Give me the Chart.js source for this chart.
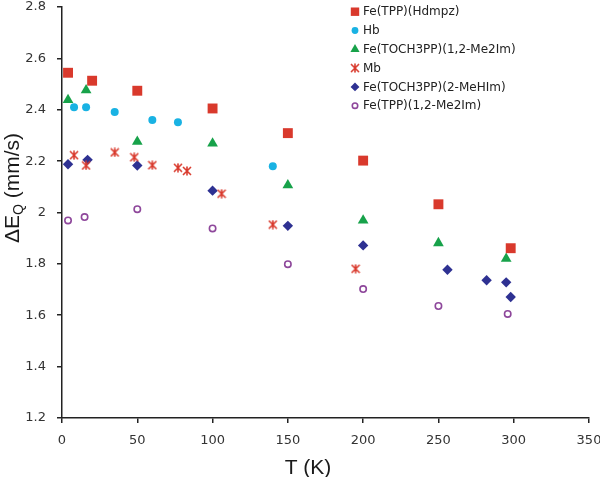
<!DOCTYPE html>
<html>
<head>
<meta charset="utf-8">
<script src="https://cdn.jsdelivr.net/npm/chart.js@4/dist/chart.umd.min.js"></script>
<style>
  body { margin: 0; background: #fff; }
  #wrap { width: 600px; height: 477px; }
</style>
</head>
<body>
<div id="wrap"><canvas id="mossChart" width="600" height="477"></canvas></div>
<script>
// temperature (K) and quadrupole splitting (mm/s) per compound
const tHdmpz = [4, 20, 50, 100, 150, 200, 250, 298];
const eHdmpz = [2.544, 2.513, 2.474, 2.405, 2.309, 2.202, 2.032, 1.861];

const tHb = [8, 16, 35, 60, 77, 140];
const eHb = [2.41, 2.41, 2.391, 2.36, 2.351, 2.18];

const tToch12 = [4, 16, 50, 100, 150, 200, 250, 295];
const eToch12 = [2.438, 2.476, 2.276, 2.269, 2.106, 1.969, 1.881, 1.82];

const tMb = [8, 16, 35, 48, 60, 77, 83, 106, 140, 195];
const eMb = [2.223, 2.183, 2.234, 2.215, 2.184, 2.174, 2.162, 2.073, 1.953, 1.781];

const tToch2Me = [4, 17, 50, 100, 150, 200, 256, 282, 295, 298];
const eToch2Me = [2.188, 2.205, 2.183, 2.085, 1.948, 1.872, 1.777, 1.736, 1.728, 1.671];

const tTpp12 = [4, 15, 50, 100, 150, 200, 250, 296];
const eTpp12 = [1.969, 1.982, 2.013, 1.938, 1.799, 1.702, 1.636, 1.605];

const seriesNames = ['Fe(TPP)(Hdmpz)', 'Hb', 'Fe(TOCH3PP)(1,2-Me2Im)', 'Mb', 'Fe(TOCH3PP)(2-MeHIm)', 'Fe(TPP)(1,2-Me2Im)'];
const xTicks = [0, 50, 100, 150, 200, 250, 300, 350];
const yTicks = [1.2, 1.4, 1.6, 1.8, 2, 2.2, 2.4, 2.6, 2.8];

function pts(xs, ys) {
  return xs.map((x, i) => ({ x: x, y: ys[i] }));
}

function series(i, xs, ys, style, fill, border, radius, bw) {
  return {
    label: seriesNames[i],
    data: pts(xs, ys),
    pointStyle: style,
    pointRadius: radius,
    pointHoverRadius: radius,
    pointBackgroundColor: fill,
    pointBorderColor: border,
    pointBorderWidth: bw,
    showLine: false
  };
}

const RED = '#d9392c', CYAN = '#19b2e3', GREEN = '#17a24a', NAVY = '#2e3192', PURPLE = '#8e479b';

// excel style "*" marker: an X with a vertical bar
function asterisk(size, color) {
  const c = document.createElement('canvas');
  c.width = size;
  c.height = size;
  const g = c.getContext('2d');
  g.strokeStyle = color;
  g.lineWidth = 1.6;
  g.lineCap = 'butt';
  const a = 1, b = size - 1, m = size / 2;
  g.beginPath();
  g.moveTo(a, a); g.lineTo(b, b);
  g.moveTo(b, a); g.lineTo(a, b);
  g.moveTo(m, a - 0.5); g.lineTo(m, b + 0.5);
  g.stroke();
  return c;
}

const datasets = [
  series(0, tHdmpz, eHdmpz, 'rect', RED, RED, 7, 0),
  series(1, tHb, eHb, 'circle', CYAN, CYAN, 4, 0),
  series(2, tToch12, eToch12, 'triangle', GREEN, GREEN, 6.2, 0),
  series(3, tMb, eMb, asterisk(10, RED), RED, RED, 5, 0),
  series(4, tToch2Me, eToch2Me, 'rectRot', NAVY, NAVY, 5.2, 0),
  series(5, tTpp12, eTpp12, 'circle', '#fff', PURPLE, 3.2, 1.6)
];

Chart.defaults.font.family = 'DejaVu Sans';

// legend drawn by hand in the upper right of the plot
const sideLegend = {
  id: 'sideLegend',
  afterDraw(chart) {
    const ctx = chart.ctx;
    ctx.save();
    ctx.font = '12px "DejaVu Sans"';
    ctx.textBaseline = 'middle';
    ctx.textAlign = 'left';
    chart.data.datasets.forEach((ds, i) => {
      const y = 11.7 + i * 18.8;
      ctx.fillStyle = ds.pointBackgroundColor;
      ctx.strokeStyle = ds.pointBorderColor;
      ctx.lineWidth = ds.pointBorderWidth;
      Chart.helpers.drawPoint(ctx, {
        pointStyle: ds.pointStyle,
        radius: ds.pointRadius * 0.85,
        borderWidth: ds.pointBorderWidth,
        rotation: 0
      }, 355, y);
      ctx.fillStyle = '#222';
      ctx.fillText(ds.label, 363, y + 0.5);
    });
    ctx.restore();
  }
};

// axis titles, with the subscript Q
const axisTitles = {
  id: 'axisTitles',
  afterDraw(chart) {
    const ctx = chart.ctx;
    ctx.save();
    ctx.fillStyle = '#1a1a1a';
    ctx.textBaseline = 'alphabetic';
    ctx.font = '21px "Liberation Sans"';
    ctx.textAlign = 'center';
    ctx.fillText('T (K)', 308, 474);

    const big = '21px "Liberation Sans"', small = '14px "Liberation Sans"';
    ctx.font = big;
    const w1 = ctx.measureText('\u0394E').width;
    const w3 = ctx.measureText(' (mm/s)').width;
    ctx.font = small;
    const w2 = ctx.measureText('Q').width;
    const total = w1 + w2 + w3;
    ctx.translate(19, 188);
    ctx.rotate(-Math.PI / 2);
    ctx.textAlign = 'left';
    let x = -total / 2;
    ctx.font = big;
    ctx.fillText('\u0394E', x, 0);
    x += w1;
    ctx.font = small;
    ctx.fillText('Q', x, 4);
    x += w2;
    ctx.font = big;
    ctx.fillText(' (mm/s)', x, 0);
    ctx.restore();
  }
};

const axisColor = '#222';

new Chart(document.getElementById('mossChart'), {
  type: 'scatter',
  data: { datasets: datasets },
  options: {
    responsive: false,
    animation: false,
    layout: { padding: { left: 0, top: 5, right: 11, bottom: 0 } },
    plugins: {
      legend: { display: false },
      tooltip: { enabled: false }
    },
    scales: {
      x: {
        type: 'linear',
        min: 0,
        max: 350,
        afterBuildTicks: s => { s.ticks = xTicks.map(v => ({ value: v })); },
        afterFit: s => { s.height = 59; s.paddingLeft = 0; s.paddingRight = 0; },
        ticks: { color: '#333', font: { size: 13 }, padding: 10, maxRotation: 0 },
        grid: { drawOnChartArea: false, drawTicks: true, tickLength: 5, color: axisColor, lineWidth: 1.5 },
        border: { display: true, color: axisColor, width: 1.5 }
      },
      y: {
        type: 'linear',
        min: 1.2,
        max: 2.8,
        afterBuildTicks: s => { s.ticks = yTicks.map(v => ({ value: v })); },
        afterFit: s => { s.width = 62; s.paddingTop = 0; s.paddingBottom = 0; },
        ticks: {
          color: '#333',
          font: { size: 13 },
          padding: 11,
          callback: v => String(+Number(v).toFixed(1))
        },
        grid: { drawOnChartArea: false, drawTicks: true, tickLength: 5, color: axisColor, lineWidth: 1.5 },
        border: { display: true, color: axisColor, width: 1.5 }
      }
    }
  },
  plugins: [sideLegend, axisTitles]
});
</script>
</body>
</html>
